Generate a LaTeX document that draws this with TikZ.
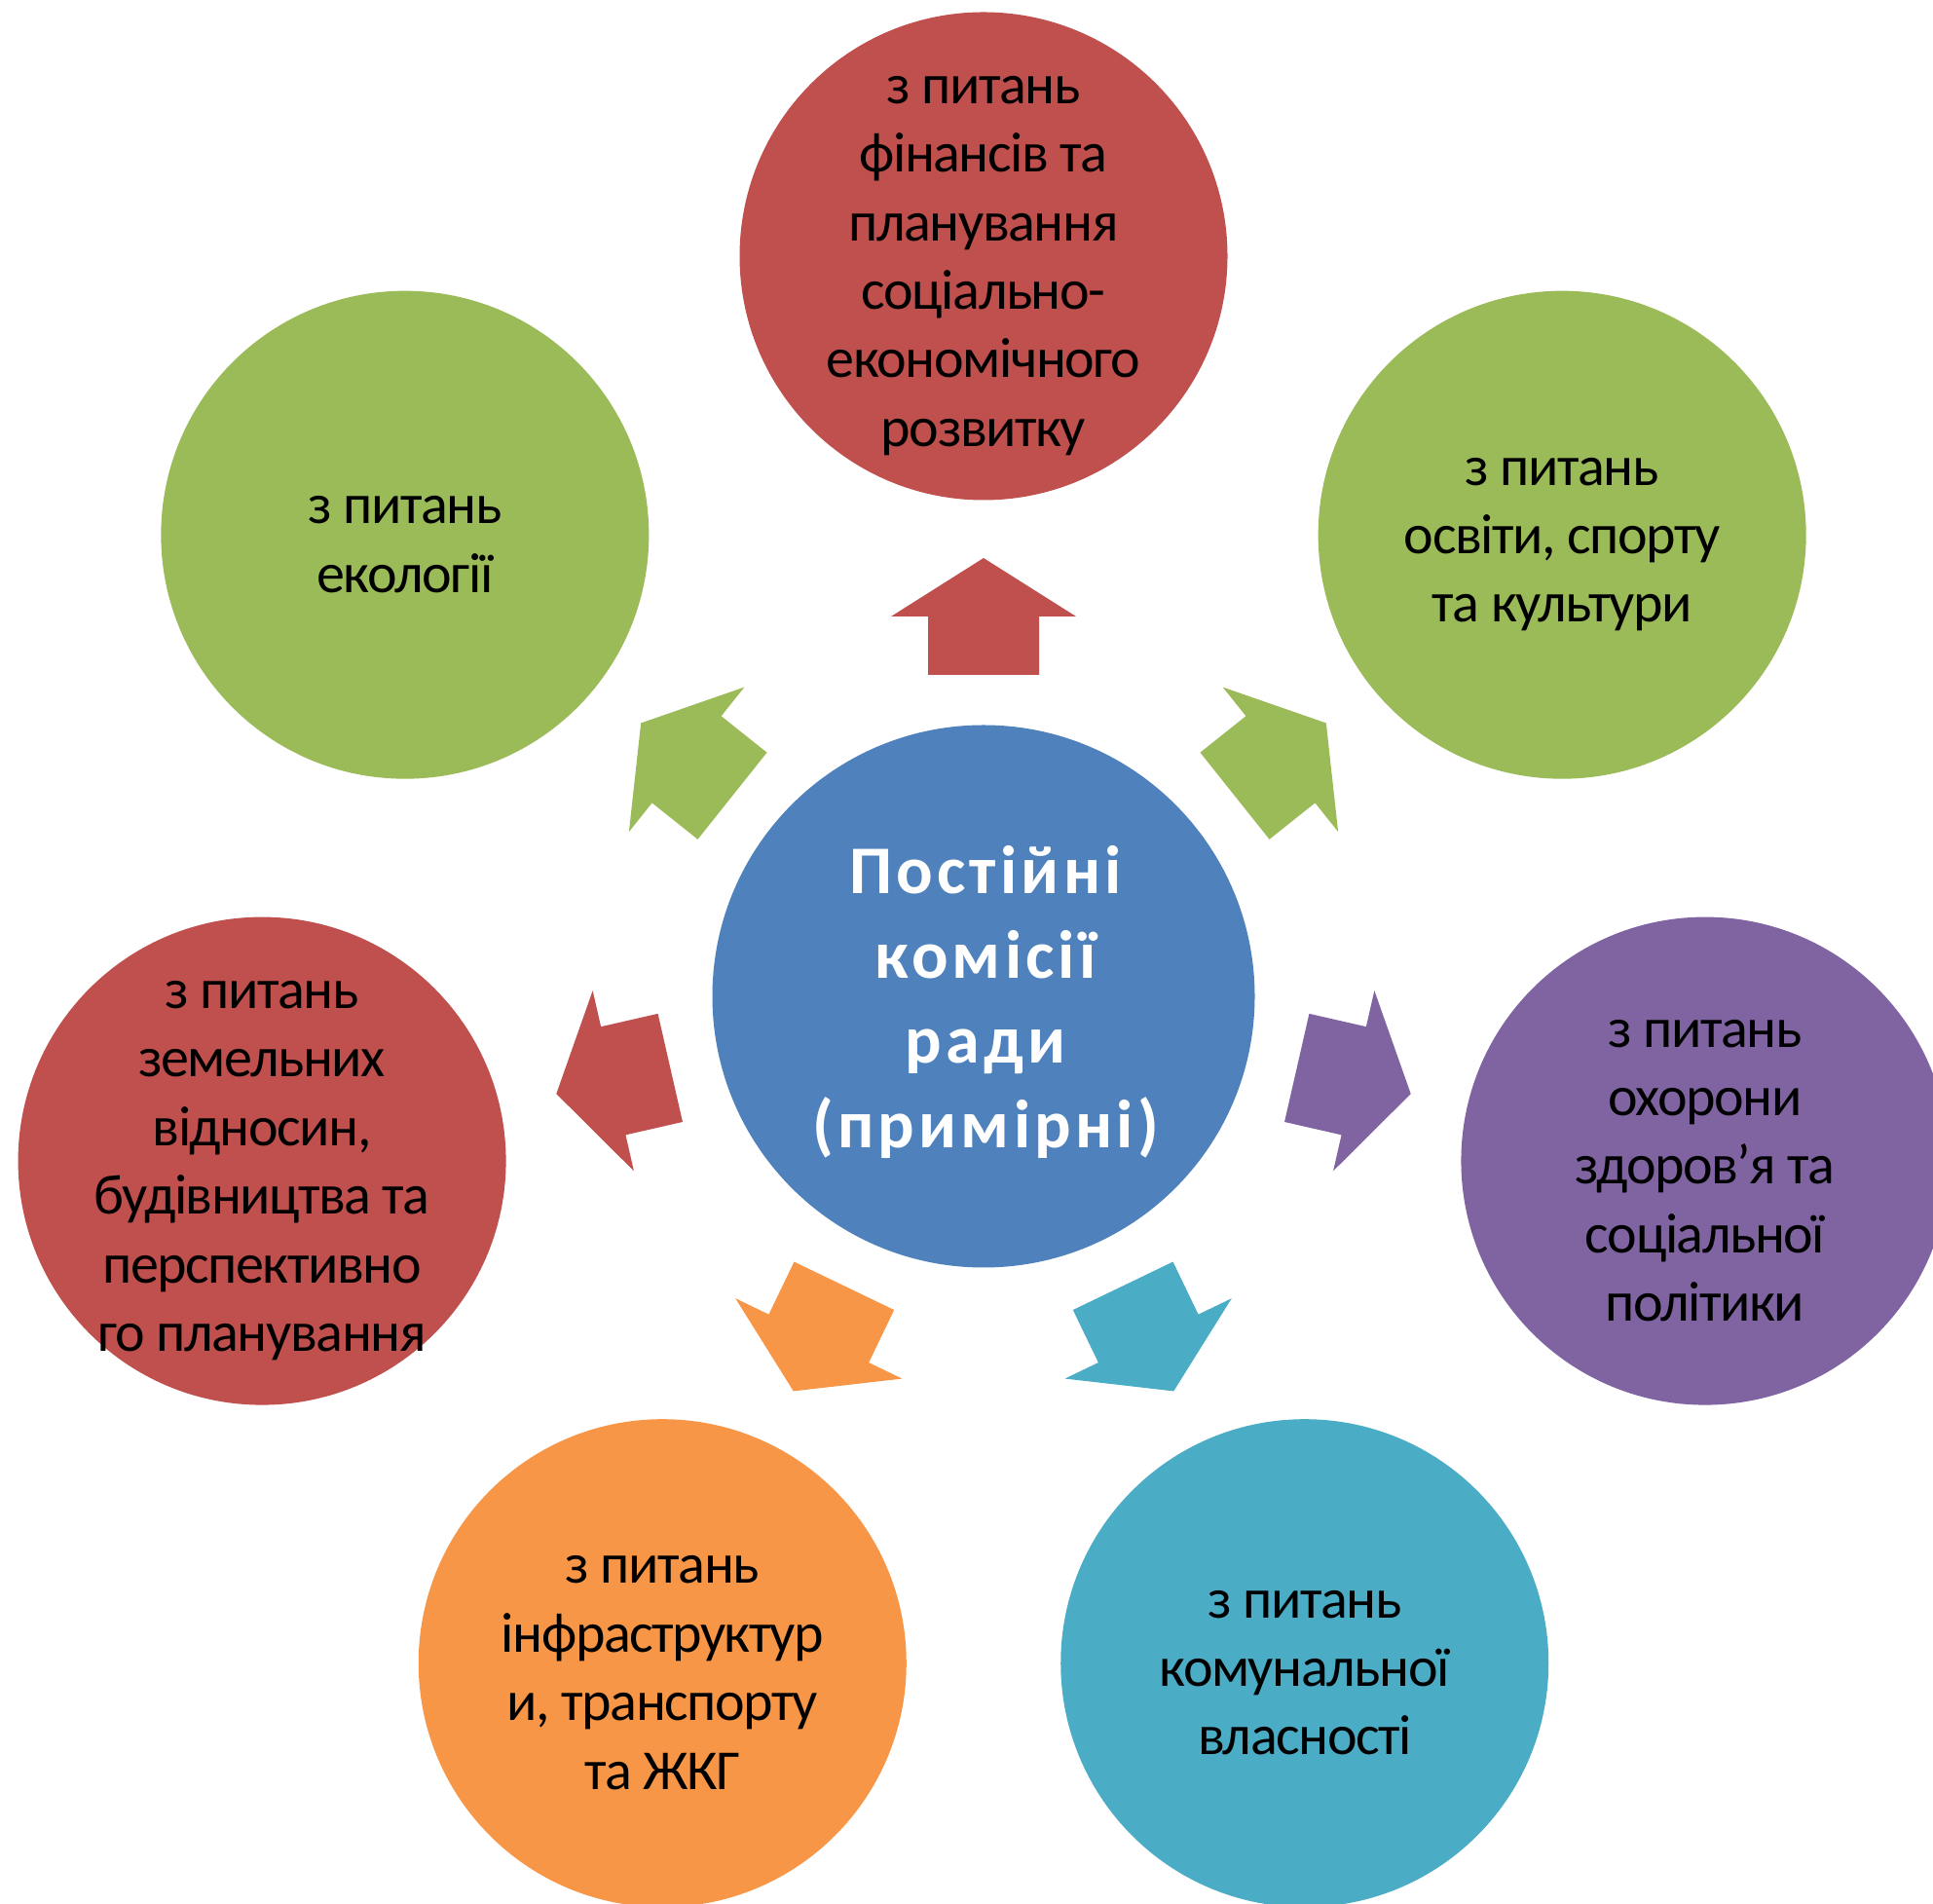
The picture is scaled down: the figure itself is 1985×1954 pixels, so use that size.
\documentclass[tikz,border=0pt]{standalone}
\usepackage{fontspec}
\setmainfont{Carlito}
\usetikzlibrary{calc}
\definecolor{cred}{HTML}{C0504D}
\definecolor{cgreen}{HTML}{9BBB59}
\definecolor{cblue}{HTML}{4F81BD}
\definecolor{cpurple}{HTML}{8064A2}
\definecolor{caqua}{HTML}{4BACC6}
\definecolor{corange}{HTML}{F79646}
\tikzset{
  sat/.style={circle, inner sep=0pt, minimum size=501pt},
  sattext/.style={align=center, text=black, font=\fontsize{58}{70.4}\selectfont\addfontfeature{LetterSpace=-2.5}},
  hub/.style={circle, fill=cblue, inner sep=0pt, minimum size=557pt},
  hubtext/.style={align=center, text=white, font=\fontsize{70}{87}\selectfont\bfseries\addfontfeature{LetterSpace=6}},
}
\newcommand\radarrow[2]{%
  \fill[#2, shift={(1010,931)}, rotate=#1]
    (330,-57) -- (390,-57) -- (390,-95) -- (450,0) -- (390,95) -- (390,57) -- (330,57) -- cycle;}
\begin{document}
\begin{tikzpicture}[x=1pt,y=1pt]
\useasboundingbox (0,0) rectangle (1985,1954);
\clip (0,0) rectangle (1985,1954);
\coordinate (C) at (1010,931);
% hub
\node[hub] (hub) at (C) {};
\node[hubtext] (hubt) at ([xshift=2pt,yshift=-6pt]C) {Постійні\\комісії\\ради\\(примірні)};
% satellites
\node[sat, fill=cred] (s0) at ($(C)+(90:760)$) {};
\node[sattext] (t0) at ([yshift=-10pt]s0) {з питань\\фінансів та\\планування\\соціально-\\економічного\\розвитку};
\node[sat, fill=cgreen] (s1) at ($(C)+(38.571:760)$) {};
\node[sattext] (t1) at ([yshift=-10pt]s1) {з питань\\освіти, спорту\\та культури};
\node[sat, fill=cpurple] (s2) at ($(C)+(-12.857:760)$) {};
\node[sattext] (t2) at ([yshift=-10pt]s2) {з питань\\охорони\\здоров’я та\\соціальної\\політики};
\node[sat, fill=caqua] (s3) at ($(C)+(-64.286:760)$) {};
\node[sattext] (t3) at ([yshift=-10pt]s3) {з питань\\комунальної\\власності};
\node[sat, fill=corange] (s4) at ($(C)+(-115.714:760)$) {};
\node[sattext] (t4) at ([yshift=-10pt]s4) {з питань\\інфраструктур\\и, транспорту\\та ЖКГ};
\node[sat, fill=cred] (s5) at ($(C)+(-167.143:760)$) {};
\node[sattext] (t5) at ([yshift=-10pt]s5) {з питань\\земельних\\відносин,\\будівництва та\\перспективно\\го планування};
\node[sat, fill=cgreen] (s6) at ($(C)+(141.429:760)$) {};
\node[sattext] (t6) at ([yshift=-10pt]s6) {з питань\\екології};
% arrows
\radarrow{90}{cred}
\radarrow{38.571}{cgreen}
\radarrow{-12.857}{cpurple}
\radarrow{-64.286}{caqua}
\radarrow{-115.714}{corange}
\radarrow{-167.143}{cred}
\radarrow{141.429}{cgreen}
\end{tikzpicture}
\end{document}
